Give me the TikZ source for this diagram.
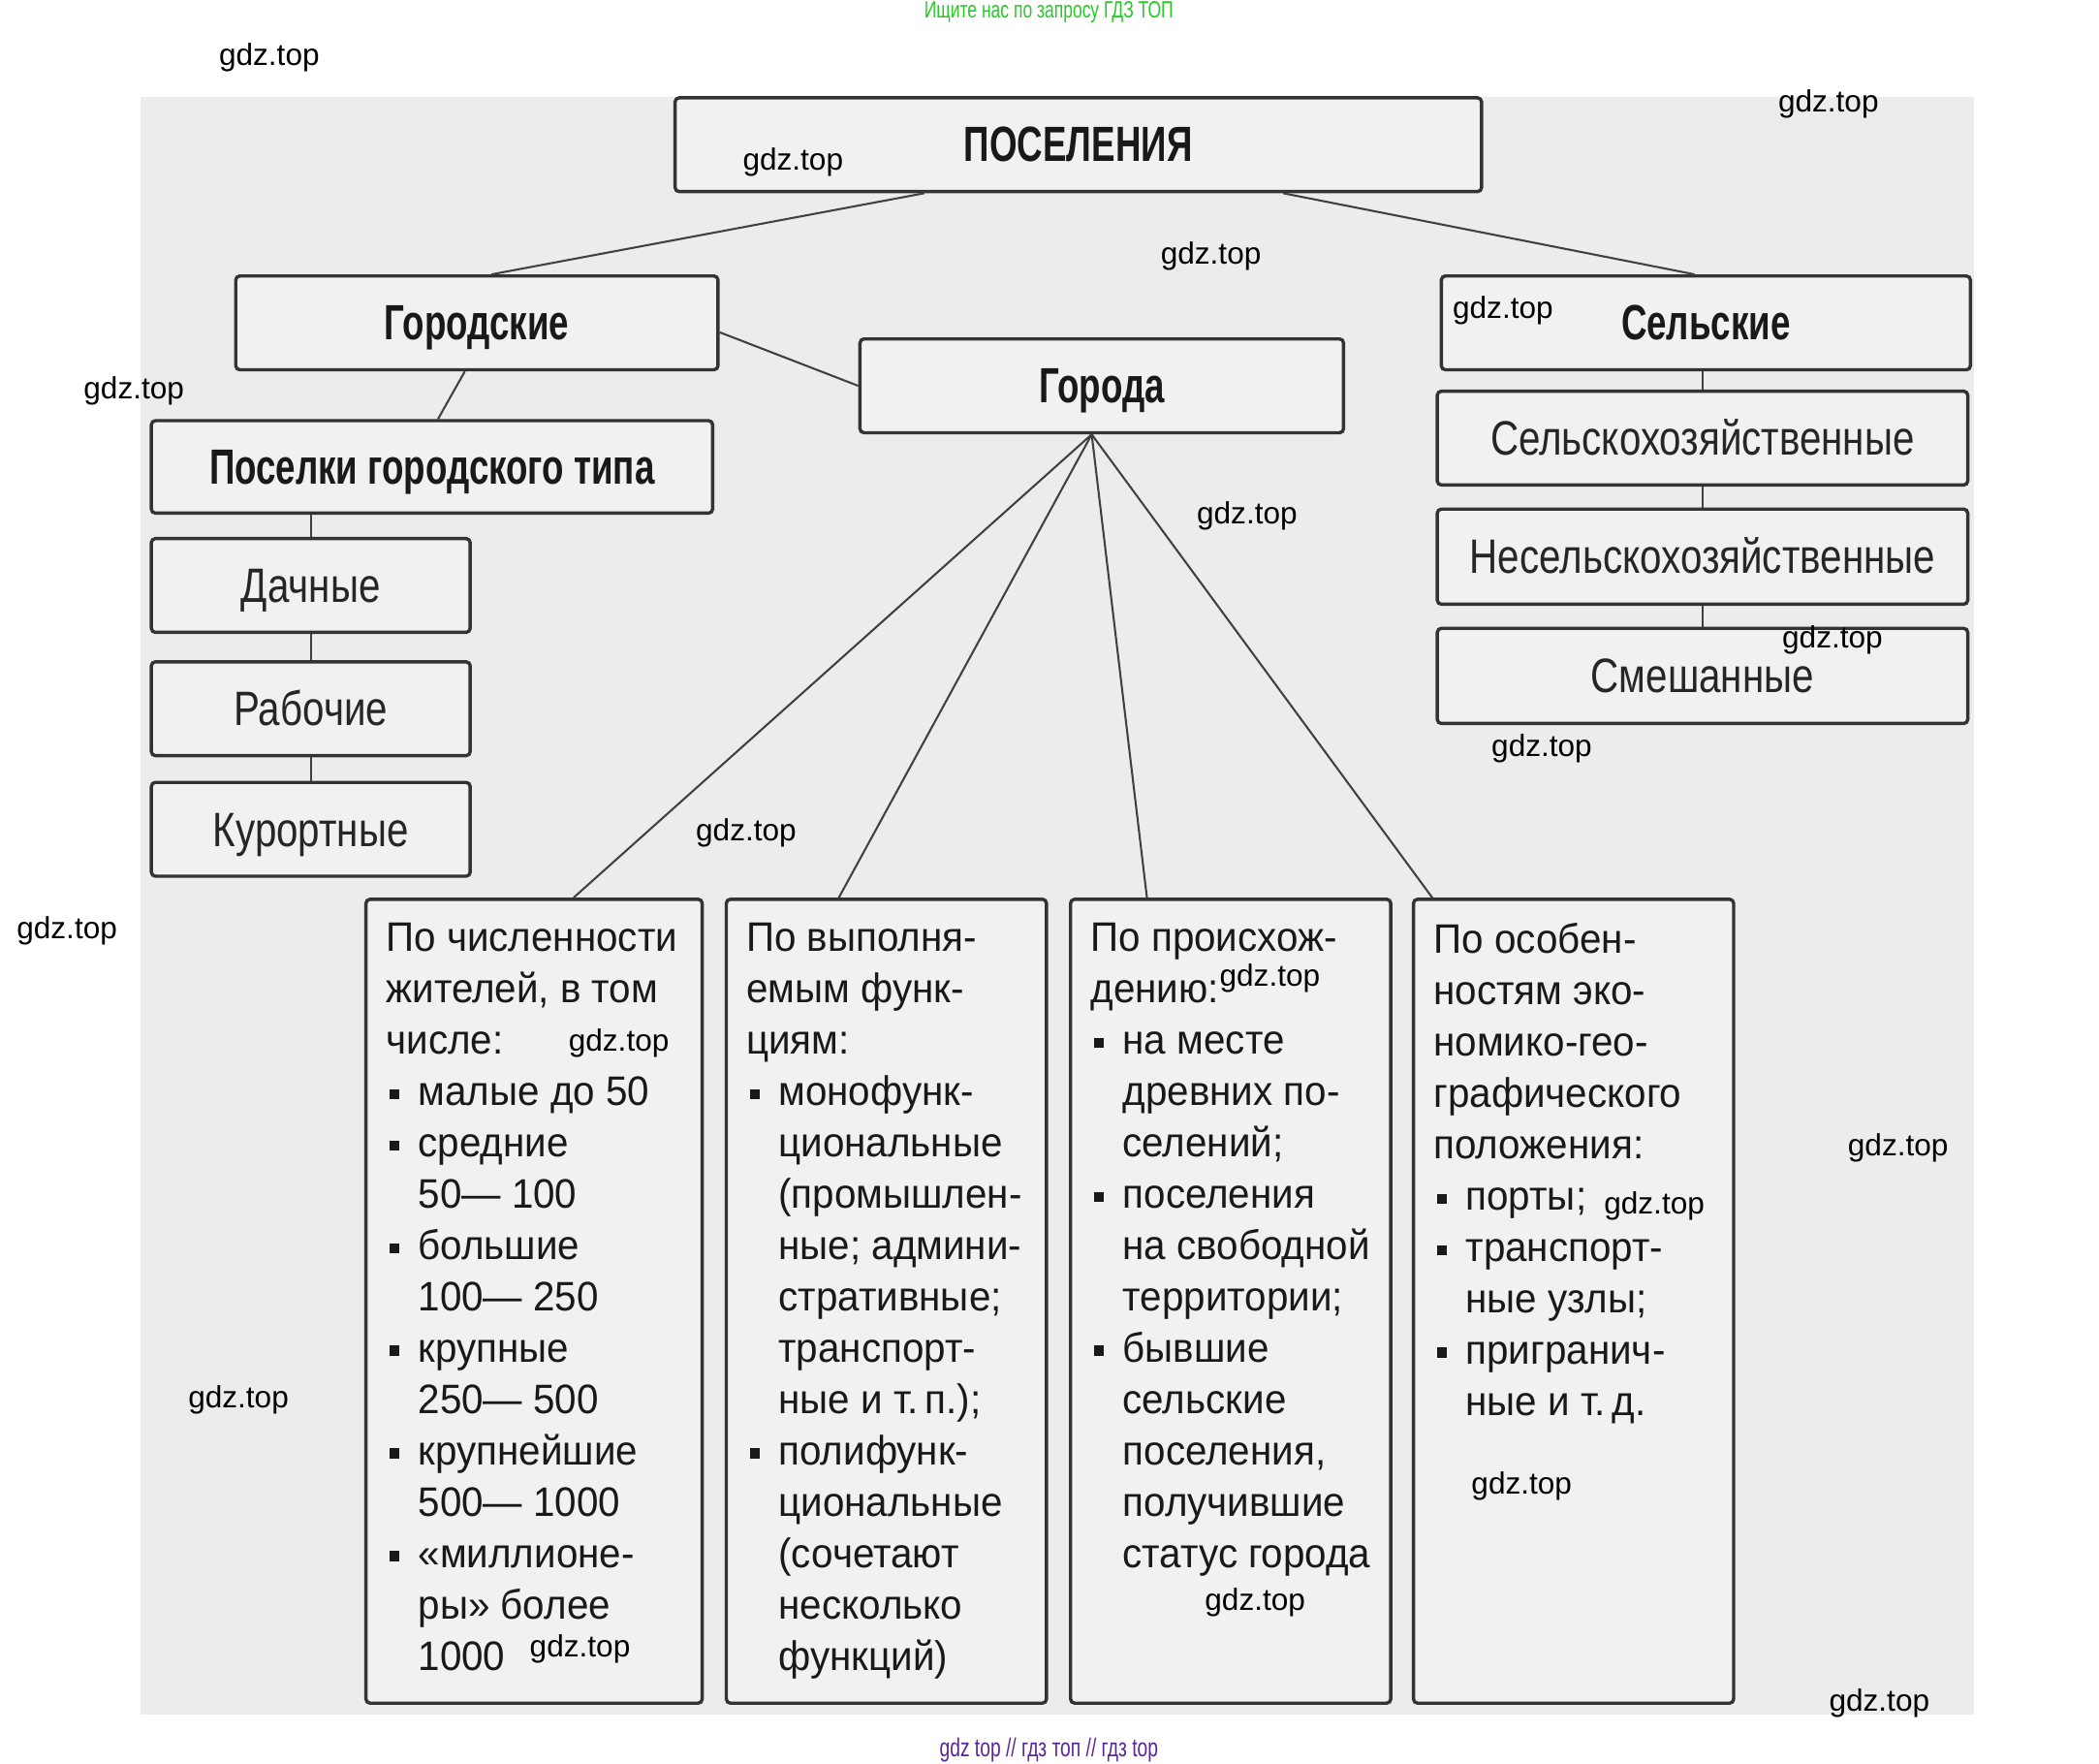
\documentclass[tikz,border=0pt]{standalone}
\usepackage{fontspec}
\setmainfont{Liberation Sans}
\newfontfamily\headfont[FakeStretch=0.72]{Liberation Sans}
\newfontfamily\itemfont[FakeStretch=0.81]{Liberation Sans}
\newfontfamily\bodyfont[FakeStretch=0.95]{Liberation Sans}

\definecolor{bggray}{gray}{0.925}
\definecolor{boxgray}{gray}{0.945}
\definecolor{wmgreen}{RGB}{40,200,40}
\definecolor{wmpurple}{RGB}{90,40,150}

% bullet and hanging indent for the lists
\newcommand{\bul}{\makebox[4.8mm][l]{\hspace*{0.5mm}\rule[0.3ex]{1.5mm}{1.5mm}}}
\newcommand{\ind}{\hspace*{4.8mm}}

\begin{document}
\begin{tikzpicture}[x=0.2mm, y=-0.2mm,
    tbox/.style 2 args={draw=black!80, line width=1.4pt, rounded corners=0.6mm, fill=boxgray,
        minimum width=#1*0.2mm, minimum height=#2*0.2mm, inner sep=0pt},
    headtxt/.style={font=\headfont\bfseries\fontsize{21}{24}\selectfont, text=black!90,
        text height=14.5pt, text depth=0pt},
    subtxt/.style={font=\itemfont\fontsize{20.5}{24}\selectfont, text=black!85,
        text height=14.5pt, text depth=0pt},
    bigbox/.style={draw=black!80, line width=1.4pt, rounded corners=0.6mm, fill=boxgray,
        inner xsep=3mm, inner ysep=3.6mm, anchor=north west,
        font=\bodyfont\fontsize{17.5}{21.8}\selectfont, text=black!90},
    link/.style={draw=black!75, line width=0.85pt},
    wm/.style={font=\fontsize{13}{15}\selectfont, text=black}]
    \useasboundingbox (0,0) rectangle (1567,1316);

    % grey sheet
    \fill[bggray] (105,72) rectangle (1474,1280);

    % top levels
    \node[tbox={602}{70}, headtxt] (pos) at (805,108) {ПОСЕЛЕНИЯ};
    \node[tbox={360}{70}, headtxt] (gor) at (356,241) {Городские};
    \node[tbox={361}{70}, headtxt] (goroda) at (822.5,288) {Города};
    \node[tbox={395}{70}, headtxt] (sel) at (1273.5,241) {Сельские};

    % urban settlements
    \node[tbox={419}{69}, headtxt] (pgt) at (322.5,348.5) {Поселки городского типа};
    \node[tbox={238}{70}, subtxt] (dach) at (232,437) {Дачные};
    \node[tbox={238}{70}, subtxt] (rab) at (232,529) {Рабочие};
    \node[tbox={238}{70}, subtxt] (kur) at (232,619) {Курортные};

    % rural settlements
    \node[tbox={396}{70}, subtxt] (selh) at (1271,327) {Сельскохозяйственные};
    \node[tbox={396}{71}, subtxt] (nesel) at (1271,415.5) {Несельскохозяйственные};
    \node[tbox={396}{71}, subtxt] (smesh) at (1271,504.5) {Смешанные};

    % classes of towns
    \node[bigbox] (b1) at (272,670) {\begin{minipage}[t][112.8mm][t]{44.2mm}\raggedright
        По численности\\ жителей, в том\\ числе:\\
        \bul малые до 50\\ \bul средние\\ \ind 50— 100\\ \bul большие\\ \ind 100— 250\\
        \bul крупные\\ \ind 250— 500\\ \bul крупнейшие\\ \ind 500— 1000\\
        \bul «миллионе-\\ \ind ры» более\\ \ind 1000\end{minipage}};
    \node[bigbox] (b2) at (541,670) {\begin{minipage}[t][112.8mm][t]{41.8mm}\raggedright
        По выполня-\\ емым функ-\\ циям:\\
        \bul монофунк-\\ \ind циональные\\ \ind (промышлен-\\ \ind ные; админи-\\
        \ind стративные;\\ \ind транспорт-\\ \ind ные и т.\,п.);\\
        \bul полифунк-\\ \ind циональные\\ \ind (сочетают\\ \ind несколько\\ \ind функций)\end{minipage}};
    \node[bigbox] (b3) at (798,670) {\begin{minipage}[t][112.8mm][t]{41.8mm}\raggedright
        По происхож-\\ дению:\\
        \bul на месте\\ \ind древних по-\\ \ind селений;\\
        \bul поселения\\ \ind на свободной\\ \ind территории;\\
        \bul бывшие\\ \ind сельские\\ \ind поселения,\\ \ind получившие\\ \ind статус города\end{minipage}};
    \node[bigbox] (b4) at (1054,670) {\begin{minipage}[t][112.8mm][t]{41.8mm}\raggedright
        По особен-\\ ностям эко-\\ номико-гео-\\ графического\\ положения:\\
        \bul порты;\\ \bul транспорт-\\ \ind ные узлы;\\
        \bul пригранич-\\ \ind ные и т.\,д.\end{minipage}};

    % links
    \draw[link] ([xshift=-23mm]pos.south) -- ([xshift=2.2mm]gor.north);
    \draw[link] ([xshift=30.6mm]pos.south) -- ([xshift=-1.7mm]sel.north);
    \draw[link] ([yshift=-1.4mm]gor.east) -- (goroda.west);
    \draw[link] ([xshift=-1.8mm]gor.south) -- ([xshift=0.9mm]pgt.north);
    \draw[link] (dach.north) -- (dach.north |- pgt.south);
    \draw[link] (dach.south) -- (rab.north);
    \draw[link] (rab.south) -- (kur.north);
    \draw[link] (selh.north) -- (selh.north |- sel.south);
    \draw[link] (selh.south) -- (nesel.north);
    \draw[link] (nesel.south) -- (smesh.north);
    \coordinate (hub) at ([xshift=-1.5mm]goroda.south);
    \draw[link] (hub) -- ([xshift=5.9mm]b1.north);
    \draw[link] (hub) -- ([xshift=-7.1mm]b2.north);
    \draw[link] (hub) -- ([xshift=-12.5mm]b3.north);
    \draw[link] (hub) -- ([xshift=-21.1mm]b4.north);

    % watermarks
    \foreach \x/\y [count=\i] in {201/43, 1365/78, 592/121, 904/191, 1122/232, 100/292,
        931/385, 1368/478, 1151/559, 557/622, 50/695, 948/730, 462/779, 1417/857,
        1235/900, 178/1045, 1136/1109, 937/1196, 433/1231, 1403/1271}
        \node[wm] (wm\i) at (\x,\y) {gdz.top};
    \node[font=\headfont\fontsize{10}{11}\selectfont, text=wmgreen] (wmtop) at (783,9) {Ищите нас по запросу ГДЗ ТОП};
    \node[font=\headfont\fontsize{11}{12}\selectfont, text=wmpurple] (wmbot) at (783,1306) {gdz top // гдз топ // гдз top};
\end{tikzpicture}
\end{document}
